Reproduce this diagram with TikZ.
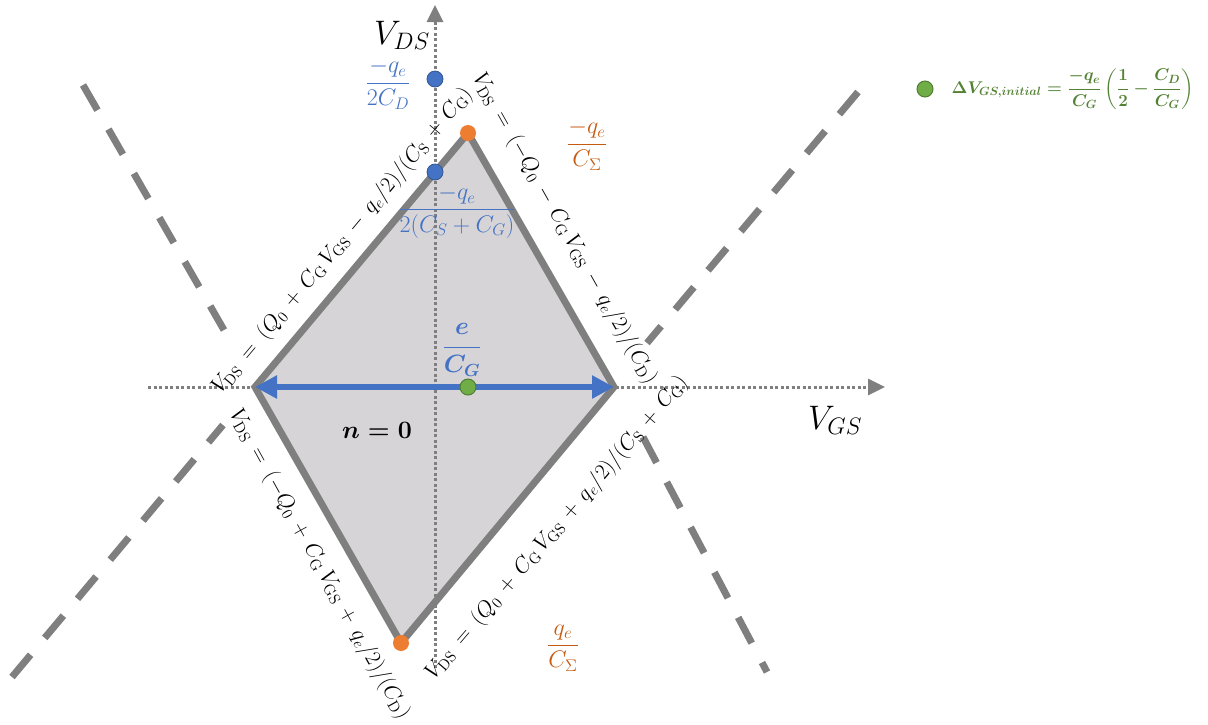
\RequirePackage{fix-cm}
\documentclass[tikz,border=0pt]{standalone}
\usepackage{amsmath,amssymb}
\usepackage{xcolor}
\usepackage{tikz}
\usetikzlibrary{arrows.meta,positioning,calc}

\definecolor{linegray}{RGB}{127,127,127}
\definecolor{fillgray}{RGB}{214,212,214}
\definecolor{ptblue}{RGB}{68,114,196}
\definecolor{ptorange}{RGB}{237,125,49}
\definecolor{txtorange}{RGB}{197,90,17}
\definecolor{ptgreen}{RGB}{112,173,71}
\definecolor{dkgreen}{RGB}{80,126,50}
\definecolor{txtgreen}{RGB}{84,130,53}

% wider spacing round = + - in the edge equations
\newcommand{\wideops}{\thickmuskip=9mu\relax\medmuskip=7mu\relax}

\tikzset{
  axisline/.style={linegray, line width=3pt, dash pattern=on 3pt off 2.5pt,
    -{Triangle[length=17pt,width=16pt]}},
  extline/.style={linegray, line width=7pt, dash pattern=on 29pt off 22pt},
  rim/.style={linegray, line width=7pt},
  spot/.style={circle, inner sep=0pt, minimum size=16pt},
  eqlabel/.style={font=\fontsize{22}{26}\selectfont, inner sep=0pt},
  fraclabel/.style={font=\fontsize{24}{28}\selectfont, inner sep=0pt},
  boldlabel/.style={font=\boldmath\fontsize{25}{30}\selectfont, inner sep=0pt},
  axislabel/.style={font=\fontsize{34}{38}\selectfont, inner sep=0pt},
}

\begin{document}
\begin{tikzpicture}[x=1pt, y=-1pt]
\useasboundingbox (0,0) rectangle (1208,724);
% corners of the n=0 diamond
\coordinate (lv) at (255,387);
\coordinate (tv) at (468,133);
\coordinate (rv) at (614,387);
\coordinate (bv) at (401,643);
% dashed extensions of the edges
\coordinate (ea) at (83,85);   \coordinate (eai) at (224,330);
\coordinate (eb) at (858,92);  \coordinate (ebi) at (647,343);
\coordinate (ec) at (12,677);  \coordinate (eci) at (223,425);
\coordinate (ed) at (767,672); \coordinate (edi) at (643,437);
\draw[extline] (ea) -- (eai);
\draw[extline] (eb) -- (ebi);
\draw[extline] (ec) -- (eci);
\draw[extline] (edi) -- (ed);

\draw[rim, fill=fillgray] (lv) -- (tv) -- (rv) -- (bv) -- cycle;

% axes
\coordinate (hx0) at (148,387); \coordinate (hx1) at (885,387);
\coordinate (vy0) at (435,668); \coordinate (vy1) at (435,5);
\draw[axisline] (hx0) -- (hx1);
\draw[axisline] (vy0) -- (vy1);

\draw[ptblue, line width=6pt, {Triangle[length=22pt,width=22pt]}-{Triangle[length=22pt,width=22pt]}] (lv) -- (rv);

% points
\node[spot, fill=ptblue, draw=ptblue!75!black, line width=0.8pt] (qd) at (435,79) {};
\node[spot, fill=ptblue, draw=ptblue!75!black, line width=0.8pt] (qs) at (435,172) {};
\node[spot, fill=ptorange] (qt) at (tv) {};
\node[spot, fill=ptorange] (qb) at (bv) {};
\node[spot, fill=ptgreen, draw=dkgreen, line width=1pt] (q0) at (468,387) {};

% labels
\node[axislabel] (vds) at (402,35) {$V_{DS}$};
\node[axislabel] (vgs) at (835,420) {$V_{GS}$};
\node[fraclabel, ptblue] (fd) at (388,84) {$\dfrac{-q_e}{2C_D}$};
\node[fraclabel, txtorange] (fsig) at (587,145) {$\dfrac{-q_e}{C_\Sigma}$};
\node[fraclabel, ptblue] (fsg) at (457,212) {$\dfrac{-q_e}{2(C_S+C_G)}$};
\node[boldlabel, ptblue] (fe) at (462,350) {$\dfrac{e}{C_G}$};
\node[boldlabel] (nzero) at (377,430) {$n=0$};
\node[fraclabel, txtorange] (fsigb) at (563,648) {$\dfrac{q_e}{C_\Sigma}$};

% edge equations
\node[eqlabel, rotate=50] (eqa) at ($(lv)!0.507!(tv)!27pt!90:(tv)$)
  {$\wideops V_{\mathrm{DS}} = (Q_0 + C_{\mathrm{G}}\,V_{\mathrm{GS}} - q_e/2)/(C_{\mathrm{S}} + C_{\mathrm{G}})$};
\node[eqlabel, rotate=-60.5] (eqb) at ($(tv)!0.447!(rv)!36pt!90:(rv)$)
  {$\wideops V_{\mathrm{DS}} = (-Q_0 - C_{\mathrm{G}}\,V_{\mathrm{GS}} - q_e/2)/(C_{\mathrm{D}})$};
\node[eqlabel, rotate=-61] (eqc) at ($(lv)!0.63!(bv)!32pt!-90:(bv)$)
  {$\wideops V_{\mathrm{DS}} = (-Q_0 + C_{\mathrm{G}}\,V_{\mathrm{GS}} + q_e/2)/(C_{\mathrm{D}})$};
\node[eqlabel, rotate=49.5] (eqd) at ($(bv)!0.565!(rv)!46pt!-90:(rv)$)
  {$\wideops V_{\mathrm{DS}} = (Q_0 + C_{\mathrm{G}}\,V_{\mathrm{GS}} + q_e/2)/(C_{\mathrm{S}} + C_{\mathrm{G}})$};

% legend
\node[spot, fill=ptgreen, draw=dkgreen, line width=1pt] (lg) at (925,89) {};
\node[font=\boldmath\fontsize{17}{20}\selectfont, txtgreen, inner sep=0pt, right=18pt of lg] (lgtxt)
  {$\Delta V_{GS,initial} = \dfrac{-q_e}{C_G}\left(\dfrac{1}{2}-\dfrac{C_D}{C_G}\right)$};
\end{tikzpicture}
\end{document}
